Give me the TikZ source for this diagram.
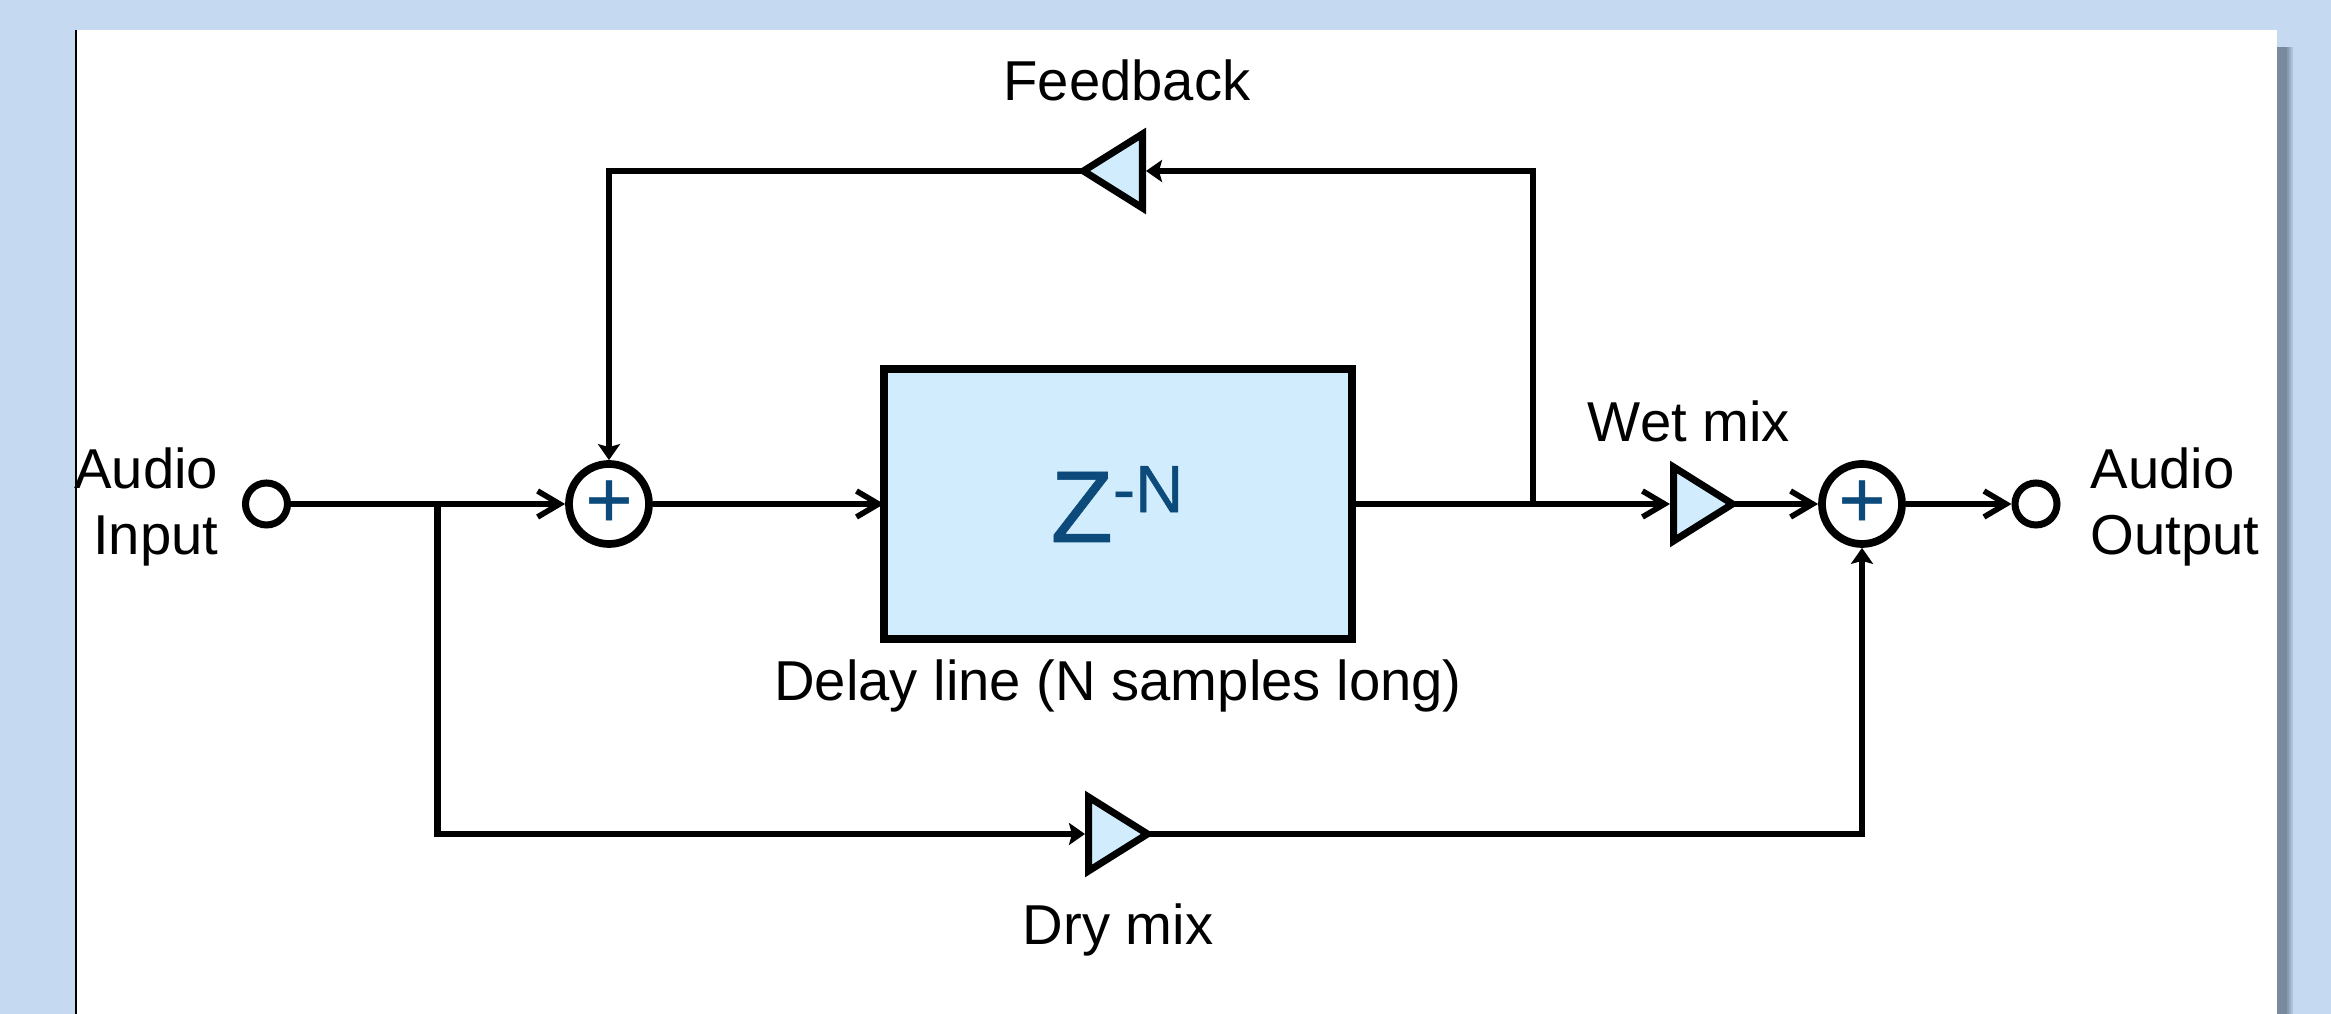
\documentclass[tikz,border=0pt]{standalone}
\usepackage{fontspec}
\setmainfont{Liberation Sans}
\newfontfamily\delayfont[FakeBold=0.6]{Liberation Sans}
\usetikzlibrary{arrows.meta,shapes.geometric}
\definecolor{pagebg}{HTML}{C5D9F1}
\definecolor{shadowgrey}{HTML}{7A8A9E}
\definecolor{boxfill}{HTML}{D1EDFD}
\definecolor{deepblue}{HTML}{0B4A7A}
\tikzset{
	wire/.style={line width=1.9pt},
	into/.style={wire,-{Straight Barb[length=2.2mm,width=2.6mm,line width=1.6pt]}},
	solidinto/.style={wire,-{Stealth[length=1.6mm,width=2.2mm,inset=0.3mm]}},
	port/.style={draw,circle,line width=2pt,fill=white,inner sep=0pt,minimum size=4.2mm},
	summer/.style={draw,circle,line width=2.2pt,fill=white,inner sep=0pt,minimum size=8.0mm,text=deepblue,font=\delayfont\fontsize{23}{23}\selectfont},
	gain/.style={draw,isosceles triangle,isosceles triangle apex angle=65,isosceles triangle stretches,line width=2pt,fill=boxfill,inner sep=0pt,minimum width=7.4mm,minimum height=5.9mm,anchor=lower side},
	caption/.style={inner sep=0pt,font=\fontsize{16}{19}\selectfont}
}
\begin{document}
\begin{tikzpicture}[auto,text badly centered]

	\useasboundingbox (0,0) rectangle (23.31,-10.14);
	\fill[pagebg] (0,0) rectangle (23.31,-10.14);
	\foreach \blur/\shade in {0.16/30,0.14/55,0.12/80,0.10/100}
		\fill[shadowgrey!\shade!pagebg] (22.7,-0.47) rectangle (22.77+\blur,-10.14);
	\fill[white] (0.76,-0.30) rectangle (22.77,-10.14);
	\draw[line width=0.6pt] (0.76,-0.30) -- (0.76,-10.14);

	\begin{scope}[every node/.style={draw,rectangle,line width=2.3pt,fill=boxfill,outer sep=0cm,minimum width=4.68cm,minimum height=2.70cm}]
		\node (delay) at (11.18,-5.04) {};
	\end{scope}

	\node[port] (audio_in) at (2.665,-5.04) {};
	\node[summer] (sum_fb) at (6.09,-5.04) {\raisebox{-1pt}{+}};
	\node[summer] (sum_out) at (18.62,-5.04) {\raisebox{-1pt}{+}};
	\node[port] (audio_out) at (20.36,-5.04) {};

	\node[gain] (wet_gain) at (16.70,-5.04) {};
	\node[gain] (dry_gain) at (10.85,-8.34) {};
	\node[gain,shape border rotate=180] (fb_gain) at (11.46,-1.71) {};

	\coordinate (dry_tap) at (4.375,-5.04);
	\coordinate (dry_low) at (4.375,-8.34);
	\coordinate (wet_tap) at (15.33,-5.04);
	\coordinate (fb_right) at (15.33,-1.71);
	\coordinate (fb_left) at (6.09,-1.71);
	\coordinate (dry_right) at (18.62,-8.34);

	\draw[into] (audio_in) -- (sum_fb);
	\draw[into] (sum_fb) -- (delay);
	\draw[into] (delay) -- (wet_gain.lower side);
	\draw[into,shorten <=-2pt] (wet_gain.apex) -- (sum_out);
	\draw[into] (sum_out) -- (audio_out);
	\draw[solidinto] (dry_tap) -- (dry_low) -- (dry_gain.lower side);
	\draw[solidinto,shorten <=-2pt] (dry_gain.apex) -- (dry_right) -- (sum_out);
	\draw[solidinto] (wet_tap) -- (fb_right) -- (fb_gain.lower side);
	\draw[solidinto,shorten <=-2pt] (fb_gain.apex) -- (fb_left) -- (sum_fb);

	\node[text=deepblue,inner sep=0pt,anchor=base west] (delay_z) at (10.50,-5.42) {\delayfont\fontsize{29}{29}\selectfont Z\raisebox{8.5pt}{\fontsize{19}{19}\selectfont -N}};

	\node[caption,align=right] (in_label) at (2.19,-5.07) [left] {Audio\\Input};
	\node[caption,align=left] (out_label) at (20.90,-5.07) [right] {Audio\\Output};
	\node[caption] (wet_label) at (16.89,-4.21) {Wet mix};
	\node[caption] (fb_label) at (11.27,-0.80) {Feedback};
	\node[caption] (delay_label) at (11.18,-6.86) {Delay line (N samples long)};
	\node[caption] (dry_label) at (11.18,-9.30) {Dry mix};

\end{tikzpicture}
\end{document}
